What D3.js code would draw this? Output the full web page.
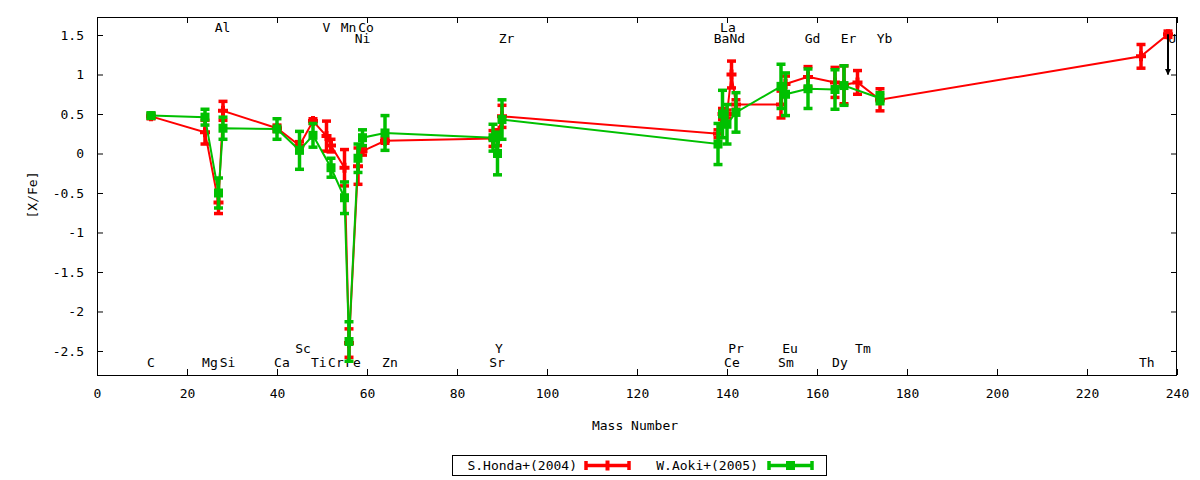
<!DOCTYPE html>
<html>
<head>
<meta charset="utf-8">
<script src="https://cdn.jsdelivr.net/npm/d3@7"></script>
<style>
  body { margin: 0; background: #fff; }
  svg { display: block; }
  text { font-family: "DejaVu Sans Mono", monospace; font-size: 13px; fill: #000; }
</style>
</head>
<body>
<div id="chart"></div>
<script>
// elements sorted by mass number, as plotted
var elements = ["C","Mg","Al","Si","Ca","Sc","Ti","V","Cr","Mn","Fe","Ni","Co","Zn",
  "Sr","Y","Zr","Ba","La","Ce","Pr","Nd","Sm","Eu","Gd","Dy","Er","Tm","Yb","Th","U"];
var massNumber = [12,24,27,28,40,45,48,51,52,55,56,58,59,64,
  88,89,90,138,139,140,141,142,152,153,158,164,166,169,174,232,238];

// S.Honda+(2004)
var honda = [0.47,0.27,-0.62,0.54,0.32,0.10,0.41,0.22,0.10,-0.18,-2.40,-0.16,0.03,0.16,
  0.19,0.20,0.47,0.25,0.50,0.50,1.00,0.62,0.62,0.88,0.97,0.90,0.87,0.90,0.68,1.23,1.51];
var hondaErr = [0.03,0.15,0.14,0.12,0.04,0.05,0.03,0.19,0.08,0.23,0.18,0.23,0.05,0.03,
  0.10,0.10,0.14,0.05,0.07,0.05,0.17,0.06,0.17,0.10,0.13,0.19,0.24,0.15,0.14,0.15,0.04];

// W.Aoki+(2005)
var aoki = [0.48,0.46,-0.50,0.32,0.31,0.04,0.23,null,-0.18,-0.56,-2.38,-0.06,0.20,0.26,
  0.20,0.00,0.43,0.12,0.50,0.37,null,0.52,0.85,0.75,0.82,0.81,0.86,null,0.70,null,null];
var aokiErr = [0.03,0.10,0.19,0.14,0.13,0.24,0.15,null,0.12,0.20,0.25,0.18,0.10,0.22,
  0.17,0.27,0.25,0.26,0.30,0.25,null,0.25,0.28,0.27,0.25,0.25,0.25,null,0.07,null,null];

// upper limit arrow (U)
var limitElement = "U", limitTo = 1.0;

// element name labels: x in mass units, row 0..3
var labelNames = ["Al","V","Mn","Co","La",
  "Ni","Zr","Ba","Nd","Gd","Er","Yb","U",
  "Sc","Y","Pr","Eu","Tm",
  "C","Mg","Si","Ca","Ti","Cr","Fe","Zn","Sr","Ce","Sm","Dy","Th"];
var labelX = [27.9,51.0,55.9,59.8,140.2,
  59.0,91.0,138.8,142.3,159.0,167.0,175.0,238.9,
  45.8,89.3,142.0,154.0,170.2,
  12.0,25.1,29.0,41.1,49.3,53.1,56.9,65.1,88.9,141.1,153.1,165.1,233.3];
var labelRow = [0,0,0,0,0, 1,1,1,1,1,1,1,1, 2,2,2,2,2, 3,3,3,3,3,3,3,3,3,3,3,3,3];
var rowY = [1.60, 1.46, -2.47, -2.65];

var xTicks = [0,20,40,60,80,100,120,140,160,180,200,220,240];
var yTicks = [1.5,1,0.5,0,-0.5,-1,-1.5,-2,-2.5];

var W = 1200, H = 480;
var pL = 97, pR = 1177, pT = 17, pB = 375;

var svg = d3.select("#chart").append("svg").attr("width", W).attr("height", H);

var x = d3.scaleLinear().domain([0, 240]).range([pL, pR]);
var y = d3.scaleLinear().domain([-2.804, 1.728]).range([pB, pT]);

// axes, ticks inward on all four sides
svg.append("g").attr("transform", "translate(0," + pB + ")")
  .call(d3.axisBottom(x).tickValues(xTicks).tickSize(-6).tickPadding(14).tickFormat(function (d) { return String(d); }))
  .call(function (g) { g.select(".domain").remove(); });
svg.append("g").attr("transform", "translate(0," + pT + ")")
  .call(d3.axisTop(x).tickValues(xTicks).tickSize(-6).tickFormat(""))
  .call(function (g) { g.select(".domain").remove(); });
svg.append("g").attr("transform", "translate(" + pL + ",0)")
  .call(d3.axisLeft(y).tickValues(yTicks).tickSize(-6).tickPadding(13).tickFormat(function (d) { return String(d); }))
  .call(function (g) { g.select(".domain").remove(); });
svg.append("g").attr("transform", "translate(" + pR + ",0)")
  .call(d3.axisRight(y).tickValues(yTicks).tickSize(-6).tickFormat(""))
  .call(function (g) { g.select(".domain").remove(); });
svg.selectAll(".tick line").attr("stroke", "#000");
svg.selectAll(".tick text").style("font-family", "DejaVu Sans Mono").style("font-size", "13px");

svg.append("rect").attr("x", pL + 0.5).attr("y", pT + 0.5)
  .attr("width", pR - pL - 1).attr("height", pB - pT)
  .attr("fill", "none").attr("stroke", "#000").attr("stroke-width", 1);

// element labels
svg.append("g").selectAll("text").data(labelNames).enter().append("text")
  .attr("x", function (d, i) { return x(labelX[i]); })
  .attr("y", function (d, i) { return y(rowY[labelRow[i]]); })
  .attr("text-anchor", "middle").attr("dominant-baseline", "central")
  .text(function (d) { return d; });

// axis titles
svg.append("text").attr("x", 635).attr("y", 425).attr("text-anchor", "middle")
  .attr("dominant-baseline", "central").text("Mass Number");
svg.append("text").attr("transform", "translate(32,195) rotate(-90)")
  .attr("text-anchor", "middle").attr("dominant-baseline", "central").text("[X/Fe]");

function series(vals, errs) {
  var out = [];
  for (var i = 0; i < vals.length; i++) {
    if (vals[i] !== null) out.push({ el: elements[i], m: massNumber[i], v: vals[i], e: errs[i] });
  }
  return out;
}

var line = d3.line().x(function (d) { return x(d.m); }).y(function (d) { return y(d.v); });

function drawSeries(data, color, marker) {
  var g = svg.append("g");
  g.append("path").datum(data).attr("d", line)
    .attr("fill", "none").attr("stroke", color).attr("stroke-width", 2);
  var eb = g.selectAll(".eb").data(data).enter().append("g");
  eb.append("line")
    .attr("x1", function (d) { return x(d.m); }).attr("x2", function (d) { return x(d.m); })
    .attr("y1", function (d) { return y(d.v - d.e); }).attr("y2", function (d) { return y(d.v + d.e); })
    .attr("stroke", color).attr("stroke-width", 3.5);
  [1, -1].forEach(function (s) {
    eb.append("line")
      .attr("x1", function (d) { return x(d.m) - 4.5; }).attr("x2", function (d) { return x(d.m) + 4.5; })
      .attr("y1", function (d) { return y(d.v + s * d.e); }).attr("y2", function (d) { return y(d.v + s * d.e); })
      .attr("stroke", color).attr("stroke-width", 3.5);
  });
  if (marker === "plus") {
    eb.append("path")
      .attr("d", function (d) {
        var cx = x(d.m), cy = y(d.v);
        return "M" + (cx - 5) + "," + cy + "H" + (cx + 5) + "M" + cx + "," + (cy - 5) + "V" + (cy + 5);
      })
      .attr("stroke", color).attr("stroke-width", 4);
  } else {
    eb.append("rect")
      .attr("x", function (d) { return x(d.m) - 4.5; }).attr("y", function (d) { return y(d.v) - 4.5; })
      .attr("width", 9).attr("height", 9).attr("fill", color);
  }
}

var hondaData = series(honda, hondaErr);
var aokiData = series(aoki, aokiErr);
drawSeries(hondaData, "#ff0000", "plus");
drawSeries(aokiData, "#00c000", "square");

// upper limit arrow
var lim = hondaData.filter(function (d) { return d.el === limitElement; })[0];
svg.append("defs").append("marker").attr("id", "ah")
  .attr("viewBox", "0 0 10 10").attr("refX", 9).attr("refY", 5)
  .attr("markerWidth", 3).attr("markerHeight", 4).attr("orient", "auto")
  .attr("markerUnits", "strokeWidth")
  .append("path").attr("d", "M0,0L10,5L0,10z").attr("fill", "#000");
svg.append("line")
  .attr("x1", x(lim.m)).attr("x2", x(lim.m))
  .attr("y1", y(lim.v)).attr("y2", y(limitTo))
  .attr("stroke", "#000").attr("stroke-width", 2).attr("marker-end", "url(#ah)");

// legend
var lg = svg.append("g");
lg.append("rect").attr("x", 452.5).attr("y", 455.5).attr("width", 374).attr("height", 20)
  .attr("fill", "#fff").attr("stroke", "#000");
var legendItems = [
  { name: "S.Honda+(2004)", color: "#ff0000", marker: "plus", tx: 577, x0: 586, x1: 629 },
  { name: "W.Aoki+(2005)", color: "#00c000", marker: "square", tx: 758, x0: 769, x1: 812 }
];
legendItems.forEach(function (it) {
  var cy = 465.5, mid = (it.x0 + it.x1) / 2;
  lg.append("text").attr("x", it.tx).attr("y", cy).attr("text-anchor", "end")
    .attr("dominant-baseline", "central").text(it.name);
  lg.append("line").attr("x1", it.x0).attr("x2", it.x1).attr("y1", cy).attr("y2", cy)
    .attr("stroke", it.color).attr("stroke-width", 3.5);
  [it.x0, it.x1].forEach(function (cx) {
    lg.append("line").attr("x1", cx).attr("x2", cx).attr("y1", cy - 4.5).attr("y2", cy + 4.5)
      .attr("stroke", it.color).attr("stroke-width", 3.5);
  });
  if (it.marker === "plus") {
    lg.append("line").attr("x1", mid).attr("x2", mid).attr("y1", cy - 5).attr("y2", cy + 5)
      .attr("stroke", it.color).attr("stroke-width", 4);
  } else {
    lg.append("rect").attr("x", mid - 4.5).attr("y", cy - 4.5).attr("width", 9).attr("height", 9)
      .attr("fill", it.color);
  }
});
</script>
</body>
</html>
